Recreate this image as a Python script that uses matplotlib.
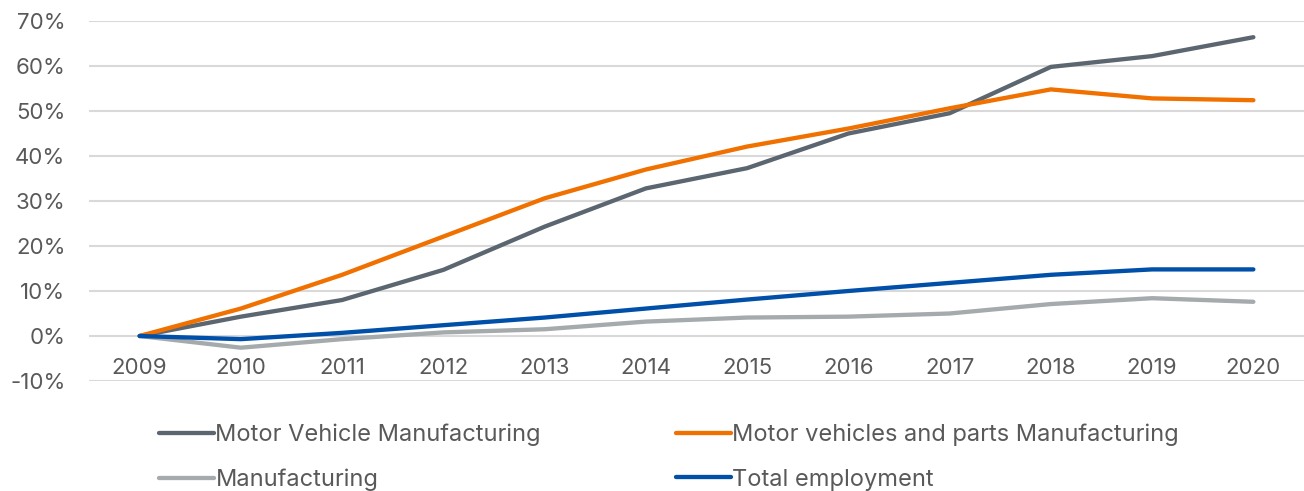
import matplotlib
matplotlib.use("Agg")
import matplotlib.pyplot as plt
from matplotlib.ticker import FuncFormatter

# Values (% change since 2009)
years = [2009, 2010, 2011, 2012, 2013, 2014, 2015, 2016, 2017, 2018, 2019, 2020]
motor_vehicle = [0, 4.3, 8.0, 14.7, 24.3, 32.8, 37.3, 45.0, 49.5, 59.8, 62.2, 66.4]
motor_parts = [0, 6.1, 13.6, 22.1, 30.6, 37.0, 42.1, 46.1, 50.6, 54.8, 52.8, 52.4]
manufacturing = [0, -2.6, -0.7, 0.8, 1.5, 3.2, 4.1, 4.3, 5.0, 7.1, 8.4, 7.6]
total_employment = [0, -0.7, 0.7, 2.4, 4.1, 6.1, 8.1, 10.0, 11.8, 13.6, 14.8, 14.8]

plt.rcParams['font.family'] = ['Inter', 'DejaVu Sans']
txt = '#595959'
fs = 16

fig = plt.figure(figsize=(13.04, 4.91), dpi=100)
ax = fig.add_axes([89/1304, 110/491, 1215/1304, 360/491])

lw = 3.1
l1, = ax.plot(years, motor_vehicle, color='#5b6670', lw=lw, solid_capstyle='round', label='Motor Vehicle Manufacturing')
l2, = ax.plot(years, motor_parts, color='#f07000', lw=lw, solid_capstyle='round', label='Motor vehicles and parts Manufacturing')
l3, = ax.plot(years, manufacturing, color='#a5aaad', lw=lw, solid_capstyle='round', label='Manufacturing')
l4, = ax.plot(years, total_employment, color='#004fa8', lw=lw, solid_capstyle='round', label='Total employment')
# keep the blue line above the light gray one, as in the reference
l3.set_zorder(2)
l4.set_zorder(3)

ax.set_xlim(2008.5, 2020.5)
ax.set_ylim(-10, 70)
ax.set_yticks(range(-10, 71, 10))
ax.yaxis.set_major_formatter(FuncFormatter(lambda v, p: f'{v:.0f}%'))
ax.set_xticks(years)
ax.set_xticklabels([str(y) for y in years])
ax.grid(axis='y', color='#d9d9d9', lw=1.5)
ax.set_axisbelow(True)

for s in ax.spines.values():
    s.set_visible(False)
ax.spines['bottom'].set_position(('data', 0))
ax.tick_params(length=0, labelsize=fs, labelcolor=txt)
ax.tick_params(axis='x', pad=16)
ax.tick_params(axis='y', pad=17)

fig.legend(handles=[l1, l3, l2, l4], ncol=2, loc='upper left', frameon=False,
           bbox_to_anchor=(147/1304, 1 - 412/491), fontsize=17,
           handlelength=2.35, handletextpad=0.05, columnspacing=5.7,
           labelspacing=0.95, borderpad=0, labelcolor=txt)

fig.savefig('out.png', dpi=100)
